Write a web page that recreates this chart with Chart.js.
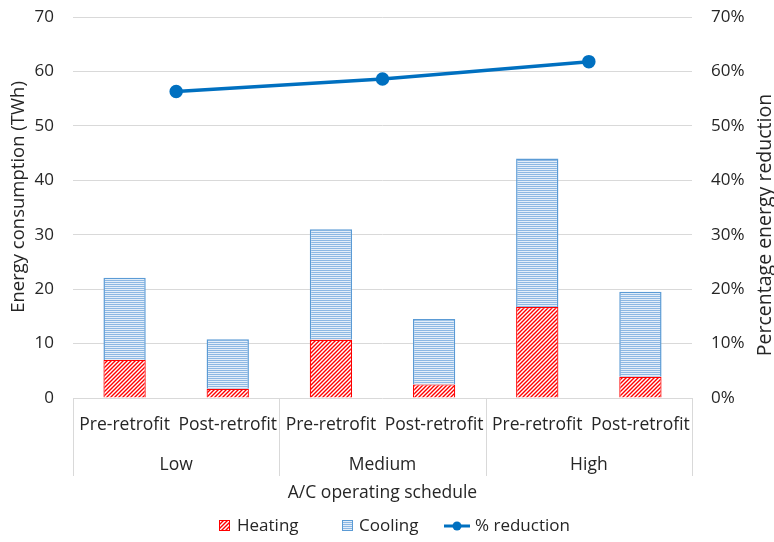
<!DOCTYPE html>
<html><head><meta charset="utf-8">
<script src="https://cdn.jsdelivr.net/npm/chart.js@4.4.1/dist/chart.umd.min.js"></script>
<style>html,body{margin:0;padding:0;background:#fff}#wrap{width:774px;height:542px}</style>
</head><body><div id="wrap"><canvas id="c" width="774" height="542"></canvas></div>
<script>
const subCategories = ["Pre-retrofit","Post-retrofit","Pre-retrofit","Post-retrofit","Pre-retrofit","Post-retrofit"];
const groups = ["Low","Medium","High"];
const heating = [7.0, 1.7, 10.7, 2.5, 16.7, 3.9];
const cooling = [15.1, 9.1, 20.3, 12.0, 27.3, 15.6];
const reduction = [56.3, 58.6, 61.8];
const leftTicks = [0,10,20,30,40,50,60,70];

const FONT = "'Open Sans', sans-serif";
const TXT = '#262626';
const GRID = '#D9D9D9';

function hatchRed(){
  const n=4;
  const c=document.createElement('canvas');c.width=n;c.height=n;const g=c.getContext('2d');
  g.fillStyle='#fff';g.fillRect(0,0,n,n);
  g.strokeStyle='#FF0000';g.lineWidth=1.4;
  g.beginPath();
  g.moveTo(-1,n+1);g.lineTo(n+1,-1);
  g.moveTo(-1,1);g.lineTo(1,-1);
  g.moveTo(n-1,n+1);g.lineTo(n+1,n-1);
  g.stroke();
  return g.createPattern(c,'repeat');
}
function hatchBlue(){
  const c=document.createElement('canvas');c.width=4;c.height=2;const g=c.getContext('2d');
  g.fillStyle='#E4EEF9';g.fillRect(0,0,4,2);
  g.fillStyle='#8DB8E3';g.fillRect(0,0,4,1);
  return g.createPattern(c,'repeat');
}
const pRed=hatchRed(), pBlue=hatchBlue();

const linePts = reduction.map((v,i)=>({x:i*2+0.5,y:v}));

const labelsPlugin = {
  id:'multiLevel',
  afterDraw(chart){
    const ctx=chart.ctx, x=chart.scales.x, area=chart.chartArea;
    ctx.save();
    ctx.strokeStyle=GRID;ctx.lineWidth=1;
    [-0.5,1.5,3.5,5.5].forEach(v=>{
      const px=Math.round(x.getPixelForValue(v))+0.5;
      ctx.beginPath();ctx.moveTo(px,area.bottom);ctx.lineTo(px,area.bottom+78);ctx.stroke();
    });
    ctx.fillStyle=TXT;ctx.font="17.5px "+FONT;ctx.textAlign='center';ctx.textBaseline='middle';
    subCategories.forEach((s,i)=>ctx.fillText(s,x.getPixelForValue(i),area.bottom+27));
    groups.forEach((g,i)=>ctx.fillText(g,x.getPixelForValue(i*2+0.5),area.bottom+67));
    ctx.fillText('A/C operating schedule',(area.left+area.right)/2,area.bottom+95);
    // axis titles
    ctx.font="18.5px "+FONT;
    ctx.save();ctx.translate(19,197);ctx.rotate(-Math.PI/2);ctx.fillText('Energy consumption (TWh)',0,0);ctx.restore();
    ctx.font="19.5px "+FONT;
    ctx.save();ctx.translate(765,225);ctx.rotate(-Math.PI/2);ctx.fillText('Percentage energy reduction',0,0);ctx.restore();
    // legend
    const ly=526;
    ctx.font="17px "+FONT;
    ctx.textAlign='left';
    ctx.fillStyle=pRed;ctx.fillRect(219,520,11,11);ctx.strokeStyle='#FF0000';ctx.lineWidth=1;ctx.strokeRect(219.5,520.5,10,10);
    ctx.fillStyle=TXT;ctx.fillText('Heating',237,ly);
    ctx.fillStyle=pBlue;ctx.fillRect(342,520,11,11);ctx.strokeStyle='#5B9BD5';ctx.strokeRect(342.5,520.5,10,10);
    ctx.fillStyle=TXT;ctx.fillText('Cooling',359,ly);
    ctx.strokeStyle='#0070C0';ctx.lineWidth=3;ctx.beginPath();ctx.moveTo(444,ly);ctx.lineTo(470,ly);ctx.stroke();
    ctx.fillStyle='#0070C0';ctx.beginPath();ctx.arc(457,ly,4.5,0,Math.PI*2);ctx.fill();
    ctx.fillStyle=TXT;ctx.fillText('% reduction',475,ly);
    ctx.restore();
  }
};

function fixPad(s){s.paddingTop=0;s.paddingBottom=0;}

new Chart(document.getElementById('c'),{
  data:{
    labels:subCategories,
    datasets:[
      {type:'bar',label:'Heating',data:heating,backgroundColor:pRed,borderColor:'#FF0000',borderWidth:1.2,order:1,grouped:false,xAxisID:'x',yAxisID:'y',barPercentage:0.41,categoryPercentage:1},
      {type:'bar',label:'Cooling',data:cooling,backgroundColor:pBlue,borderColor:'#5B9BD5',borderWidth:1.5,order:1,grouped:false,xAxisID:'x',yAxisID:'y',barPercentage:0.41,categoryPercentage:1},
      {type:'line',label:'% reduction',data:linePts,borderColor:'#0070C0',backgroundColor:'#0070C0',borderWidth:3.5,pointRadius:5,pointHoverRadius:5,order:0,xAxisID:'x2',yAxisID:'y2',fill:false,tension:0}
    ]
  },
  options:{
    responsive:false,animation:false,devicePixelRatio:1,
    layout:{padding:{top:17,left:0,right:0,bottom:0}},
    plugins:{legend:{display:false},tooltip:{enabled:false}},
    scales:{
      x:{type:'category',stacked:true,offset:true,grid:{display:false},border:{display:false},ticks:{display:false},
         afterFit(s){s.height=144;}},
      x2:{type:'linear',display:false,min:-0.5,max:5.5},
      y:{type:'linear',position:'left',stacked:true,min:0,max:70,
         afterBuildTicks(s){s.ticks=leftTicks.map(v=>({value:v}));},
         grid:{color:GRID,drawTicks:false,lineWidth:1},border:{display:false},
         ticks:{padding:19,color:TXT,font:{family:FONT,size:17}},
         title:{display:false},
         afterFit(s){s.width=73;fixPad(s);}},
      y2:{type:'linear',position:'right',min:0,max:70,grid:{display:false,drawTicks:false},border:{display:false},
         afterBuildTicks(s){s.ticks=leftTicks.map(v=>({value:v}));},
         ticks:{padding:19,color:TXT,font:{family:FONT,size:17},callback:v=>v+'%'},
         title:{display:false},
         afterFit(s){s.width=82;fixPad(s);}}
    }
  },
  plugins:[labelsPlugin]
});
</script></body></html>
